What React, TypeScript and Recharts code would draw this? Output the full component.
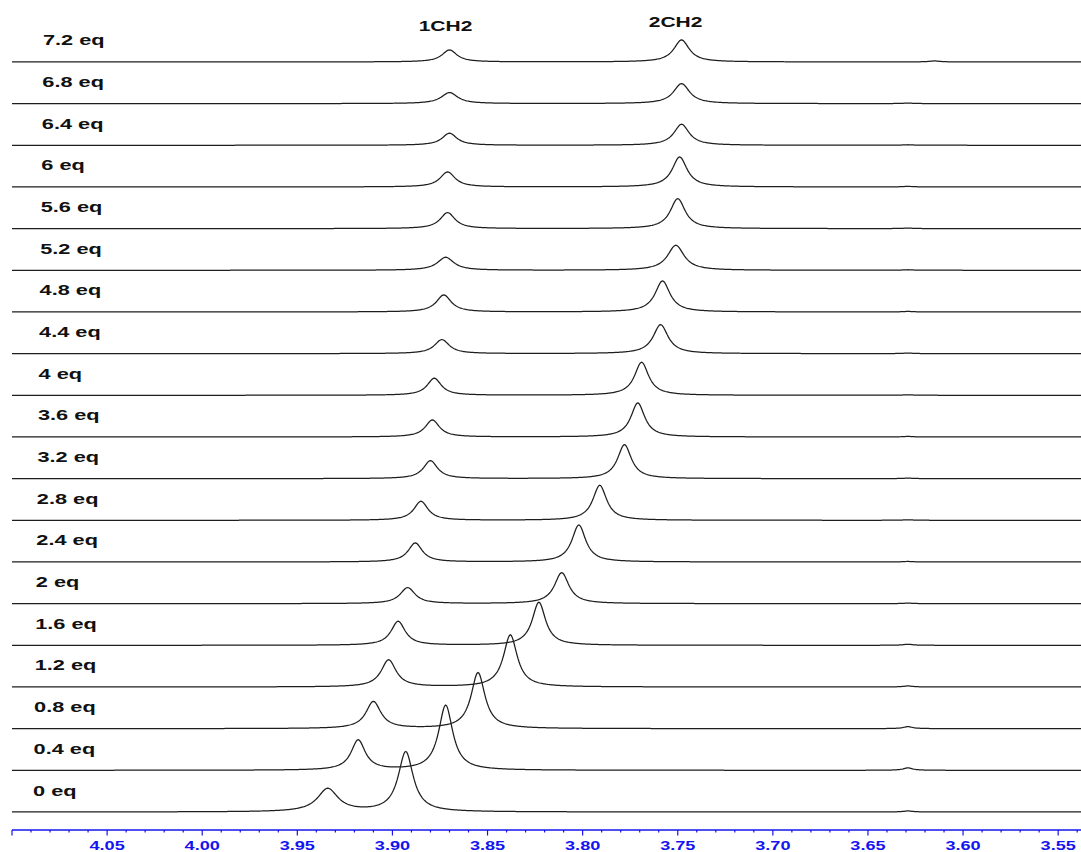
import React from "react";
import { LineChart, Line, XAxis, YAxis, ReferenceDot } from "recharts";

// titration steps, bottom trace first
const equivalents = ["0", "0.4", "0.8", "1.2", "1.6", "2", "2.4", "2.8", "3.2", "3.6", "4", "4.4", "4.8", "5.2", "5.6", "6", "6.4", "6.8", "7.2"];

// 1CH2 signal per step: shift (ppm), intensity, line width (ppm)
const ch1Shift = [3.934, 3.918, 3.91, 3.902, 3.897, 3.892, 3.888, 3.885, 3.88, 3.879, 3.878, 3.874, 3.873, 3.872, 3.871, 3.871, 3.87, 3.87, 3.87];
const ch1Height = [23, 30, 27, 27, 24, 16, 19, 19, 18, 17, 17, 14, 17, 13, 16, 15, 12, 11, 12];
const ch1Width = [0.013, 0.009, 0.0095, 0.0095, 0.009, 0.0095, 0.009, 0.009, 0.009, 0.009, 0.009, 0.0095, 0.0095, 0.0105, 0.0095, 0.0095, 0.0095, 0.0105, 0.0095];

// 2CH2 signal per step
const ch2Shift = [3.893, 3.872, 3.855, 3.838, 3.823, 3.811, 3.802, 3.791, 3.778, 3.771, 3.769, 3.759, 3.758, 3.751, 3.75, 3.749, 3.748, 3.748, 3.748];
const ch2Height = [60, 65, 56, 52, 43, 31, 37, 35, 34, 34, 33, 29, 31, 25, 30, 30, 21, 20, 22];
const ch2Width = [0.0095, 0.009, 0.0088, 0.0088, 0.0085, 0.0092, 0.0088, 0.0088, 0.0088, 0.0088, 0.009, 0.0095, 0.0095, 0.0105, 0.0095, 0.0095, 0.0098, 0.0102, 0.0098];

// small impurity around 3.63 ppm
const minorShift = [3.629, 3.629, 3.629, 3.629, 3.629, 3.629, 3.629, 3.629, 3.629, 3.629, 3.629, 3.629, 3.629, 3.629, 3.629, 3.629, 3.629, 3.629, 3.615];
const minorHeight = [1, 2.5, 2, 1, 1, 0.5, 0.5, 0.5, 0.5, 0.5, 0.5, 0.5, 0.5, 0.5, 0.5, 0.5, 0.5, 0.5, 1];
const minorWidth = 0.006;

// axis
const ppmMin = 3.538;
const ppmMax = 4.1;
const majorLabels = [4.05, 4.0, 3.95, 3.9, 3.85, 3.8, 3.75, 3.7, 3.65, 3.6, 3.55];

const BLUE = "#1414f0";
const TRACE = "#1e1e1e";
const ROW_GAP = 41.67;
const ROW_BASE = 18;
const STEP = 0.0005;

const lorentz = (x: number, x0: number, h: number, w: number) => {
  const t = (x - x0) / (w / 2);
  return h / (1 + t * t);
};

// one row per ppm sample, one key per trace, stacked by row offset
const data: Record<string, number>[] = [];
for (let k = 0; ppmMin + k * STEP <= ppmMax + 1e-9; k++) {
  const ppm = +(ppmMin + k * STEP).toFixed(4);
  const row: Record<string, number> = { ppm };
  equivalents.forEach((_, i) => {
    row[`s${i}`] =
      ROW_BASE +
      i * ROW_GAP +
      lorentz(ppm, ch1Shift[i], ch1Height[i], ch1Width[i]) +
      lorentz(ppm, ch2Shift[i], ch2Height[i], ch2Width[i]) +
      lorentz(ppm, minorShift[i], minorHeight[i], minorWidth);
  });
  data.push(row);
}

const ticks: number[] = [];
for (let k = 354; k <= 410; k++) ticks.push(k / 100);

const PpmTick = (props: any) => {
  const { x, y, payload } = props;
  const v = payload.value as number;
  const hundredths = Math.round(v * 100);
  const major = hundredths % 5 === 0;
  const axisY = y - 8;
  const showLabel = majorLabels.some((m) => Math.round(m * 100) === hundredths);
  return (
    <g>
      <line x1={x} x2={x} y1={axisY} y2={axisY + (major ? 5.5 : 2.5)} stroke={BLUE} strokeWidth={1.2} />
      {showLabel && (
        <text
          transform={`translate(${x},${axisY + 19.8}) scale(1.45,1)`}
          textAnchor="middle"
          fill={BLUE}
          fontFamily="'Liberation Sans', Arial, sans-serif"
          fontWeight="bold"
          fontSize={12.5}
        >
          {v.toFixed(2)}
        </text>
      )}
    </g>
  );
};

const RowTag = ({ cx, cy, text, dx }: any) => (
  <text
    transform={`translate(${cx + dx},${cy - 16.5}) scale(1.45,1)`}
    fill="#111"
    fontFamily="'Liberation Sans', Arial, sans-serif"
    fontWeight="bold"
    fontSize={15}
  >
    {text}
  </text>
);

const PeakTag = ({ cx, cy, text, dx, dy }: any) => (
  <text
    transform={`translate(${cx + dx},${cy + dy}) scale(1.5,1)`}
    textAnchor="middle"
    fill="#111"
    fontFamily="'Liberation Sans', Arial, sans-serif"
    fontWeight="bold"
    fontSize={14}
  >
    {text}
  </text>
);

const top = equivalents.length - 1;

export default function App() {
  return (
    <div style={{ position: "absolute", left: 0, top: 0, background: "#fff" }}>
      <LineChart width={1081} height={852} data={data} margin={{ top: 0, right: 0, bottom: 0, left: 12 }}>
        <XAxis
          dataKey="ppm"
          type="number"
          domain={[ppmMin, ppmMax]}
          reversed
          allowDataOverflow
          ticks={ticks}
          interval={0}
          height={22}
          tickSize={6}
          tickMargin={2}
          tickLine={false}
          axisLine={{ stroke: BLUE, strokeWidth: 1.3 }}
          tick={<PpmTick />}
        />
        <YAxis hide type="number" domain={[0, 830]} allowDataOverflow />
        {equivalents.map((_, i) => (
          <Line
            key={i}
            dataKey={`s${i}`}
            type="linear"
            stroke={TRACE}
            strokeWidth={1.25}
            dot={false}
            activeDot={false}
            isAnimationActive={false}
          />
        ))}
        {equivalents.map((eq, i) => (
          <ReferenceDot
            key={`tag-${i}`}
            x={ppmMax}
            y={ROW_BASE + i * ROW_GAP}
            r={0}
            shape={(p: any) => <RowTag cx={p.cx} cy={p.cy} dx={21 + i * 0.55} text={`${eq} eq`} />}
          />
        ))}
        <ReferenceDot
          x={ch1Shift[top]}
          y={ROW_BASE + top * ROW_GAP}
          r={0}
          shape={(p: any) => <PeakTag cx={p.cx} cy={p.cy} dx={-4} dy={-31} text="1CH2" />}
        />
        <ReferenceDot
          x={ch2Shift[top]}
          y={ROW_BASE + top * ROW_GAP}
          r={0}
          shape={(p: any) => <PeakTag cx={p.cx} cy={p.cy} dx={-6} dy={-35} text="2CH2" />}
        />
      </LineChart>
    </div>
  );
}
